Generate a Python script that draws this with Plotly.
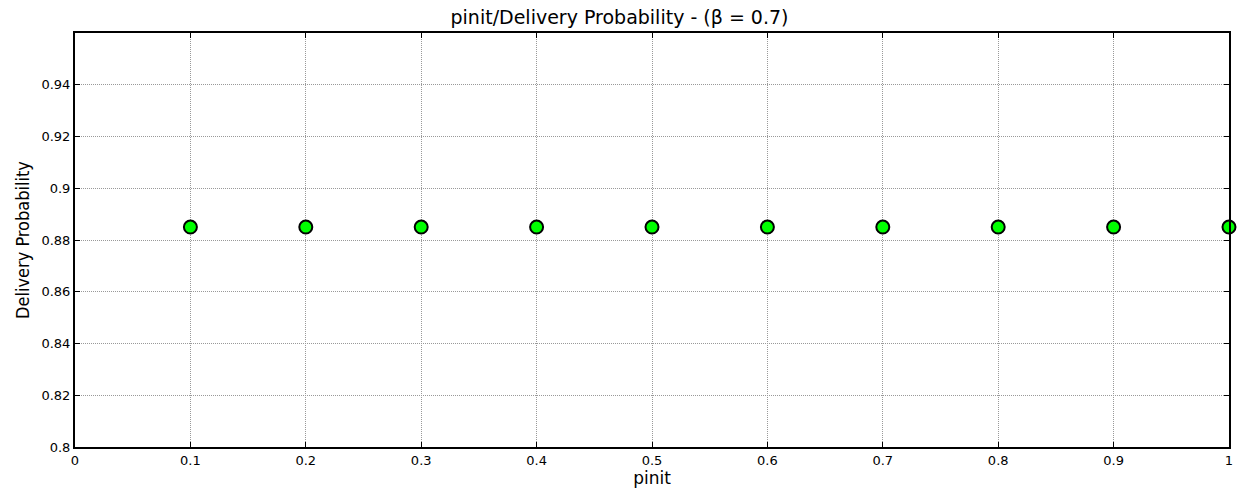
import plotly.graph_objects as go

# pinit values and measured delivery probability
pinit = [0.1, 0.2, 0.3, 0.4, 0.5, 0.6, 0.7, 0.8, 0.9, 1.0]
delivery_prob = [0.885, 0.885, 0.885, 0.885, 0.885, 0.885, 0.885, 0.885, 0.885, 0.885]

x_ticks = [0, 0.1, 0.2, 0.3, 0.4, 0.5, 0.6, 0.7, 0.8, 0.9, 1]
x_tick_text = ["0", "0.1", "0.2", "0.3", "0.4", "0.5", "0.6", "0.7", "0.8", "0.9", "1"]
y_ticks = [0.8, 0.82, 0.84, 0.86, 0.88, 0.9, 0.92, 0.94]
y_tick_text = ["0.8", "0.82", "0.84", "0.86", "0.88", "0.9", "0.92", "0.94"]

fig = go.Figure()
fig.add_trace(go.Scatter(
    x=pinit, y=delivery_prob, mode="markers",
    marker=dict(symbol="circle", size=13, color="#00ff00",
                line=dict(color="black", width=2)),
    cliponaxis=False, showlegend=False,
))

axis_common = dict(
    showline=True, linecolor="black", linewidth=2, mirror="ticks",
    ticks="inside", ticklen=5, tickcolor="black", tickwidth=1,
    showgrid=True, gridcolor="#999999", gridwidth=1, griddash="1px,1px",
    zeroline=False, tickfont=dict(family="DejaVu Sans", size=13, color="black"),
)

fig.update_layout(
    width=1239, height=489,
    margin=dict(l=75, r=6, t=33, b=42),
    paper_bgcolor="white", plot_bgcolor="white",
    title=dict(text="pinit/Delivery Probability - (β = 0.7)", x=0.5, xanchor="center",
               y=0.978, yanchor="top",
               font=dict(family="DejaVu Sans", size=19, color="black")),
    xaxis=dict(range=[0, 1], tickvals=x_ticks, ticktext=x_tick_text,
               title=dict(text="pinit", standoff=1,
                          font=dict(family="DejaVu Sans", size=17, color="black")),
               **axis_common),
    yaxis=dict(range=[0.8, 0.96], tickvals=y_ticks, ticktext=y_tick_text,
               title=dict(text="Delivery Probability", standoff=7,
                          font=dict(family="DejaVu Sans Condensed, Liberation Sans", size=18, color="black")),
               **axis_common),
)

fig.write_html("out.html")
